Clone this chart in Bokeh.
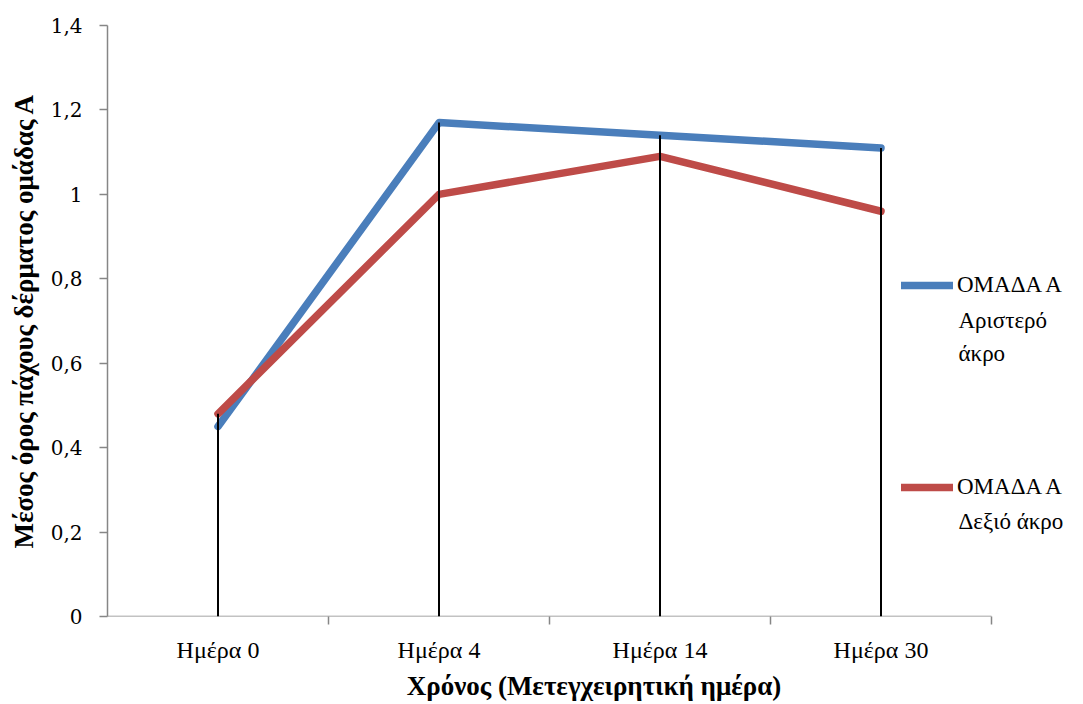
import numpy as np
from bokeh.plotting import figure
from bokeh.models import (Range1d, FixedTicker, CustomJSTickFormatter, Legend,
                          LegendItem, Label)
from bokeh.embed import file_html
from bokeh.resources import INLINE

# ---- data ----
days = ["Ημέρα 0", "Ημέρα 4", "Ημέρα 14", "Ημέρα 30"]
left_limb = [0.45, 1.17, 1.14, 1.11]    # ΟΜΑΔΑ Α Αριστερό άκρο
right_limb = [0.48, 1.00, 1.09, 0.96]   # ΟΜΑΔΑ Α Δεξιό άκρο
legend_first = ["ΟΜΑΔΑ Α", "ΟΜΑΔΑ Α"]
legend_rest = [["Αριστερό", "άκρο"], ["Δεξιό άκρο"]]
y_ticks = [0, 0.2, 0.4, 0.6, 0.8, 1.0, 1.2, 1.4]
x_title = "Χρόνος (Μετεγχειρητική ημέρα)"
y_title = "Μέσος όρος πάχους δέρματος ομάδας Α"

BLUE = "#4A7EBB"
RED = "#BE4B48"
AXIS = "#868686"
FONT = "Liberation Serif"
TICK_FONT = "DejaVu Serif"

# layout (pixels)
W, H = 1083, 704
LEFT, TOP, BOTTOM, RIGHT = 107, 25, 88, 3
AXIS_W = 884                     # drawn length of the category axis
FRAME_W = W - LEFT - RIGHT
FRAME_H = H - TOP - BOTTOM
n = len(days)
x_end = n * FRAME_W / AXIS_W     # extra room on the right for the legend

xs = [i + 0.5 for i in range(n)]
tops = list(np.maximum(left_limb, right_limb))

p = figure(width=W, height=H, x_range=Range1d(0, x_end),
           y_range=Range1d(0, 1.4), output_backend="svg", toolbar_location=None,
           min_border_left=LEFT, min_border_right=RIGHT, min_border_top=TOP,
           min_border_bottom=BOTTOM)
p.outline_line_color = None
p.xgrid.visible = False
p.ygrid.visible = False

# category axis base line (only across the categories)
p.segment(x0=[0], y0=[0], x1=[n], y1=[0], line_color=AXIS, line_width=1.5)

l1 = p.line(xs, left_limb, line_width=7.5, line_color=BLUE, line_cap="round", line_join="round")
l2 = p.line(xs, right_limb, line_width=7.5, line_color=RED, line_cap="round", line_join="round")
p.segment(x0=xs, y0=[0] * n, x1=xs, y1=tops, line_color="black", line_width=2)

# x axis
xa = p.xaxis[0]
xa.ticker = FixedTicker(ticks=xs, minor_ticks=list(range(1, n + 1)))
xa.formatter = CustomJSTickFormatter(args=dict(labels=days),
                                     code="return labels[Math.round(tick - 0.5)] || '';")
xa.major_tick_line_color = None
xa.major_tick_out = 0
xa.major_tick_in = 0
xa.minor_tick_in = 0
xa.minor_tick_out = 8
xa.minor_tick_line_color = AXIS
xa.minor_tick_line_width = 1.5
xa.axis_line_color = None
xa.major_label_text_font = FONT
xa.major_label_text_font_size = "24px"
xa.major_label_text_color = "black"
xa.major_label_standoff = 12
xa.axis_label = x_title
xa.axis_label_text_font = FONT
xa.axis_label_text_font_style = "bold"
xa.axis_label_text_font_size = "27px"
xa.axis_label_text_color = "black"
xa.axis_label_standoff = 5

# y axis
ya = p.yaxis[0]
ya.ticker = FixedTicker(ticks=y_ticks, minor_ticks=[])
ya.formatter = CustomJSTickFormatter(
    code="return (Math.round(tick*10)/10).toString().replace('.', ',');")
ya.major_tick_in = 0
ya.major_tick_out = 8
ya.major_tick_line_color = AXIS
ya.major_tick_line_width = 1.5
ya.minor_tick_line_color = None
ya.axis_line_color = AXIS
ya.axis_line_width = 1.5
ya.major_label_text_font = TICK_FONT
ya.major_label_text_font_size = "20px"
ya.major_label_text_color = "black"
ya.major_label_standoff = 17
ya.axis_label = y_title
ya.axis_label_text_font = FONT
ya.axis_label_text_font_style = "bold"
ya.axis_label_text_font_size = "27px"
ya.axis_label_text_color = "black"
ya.axis_label_standoff = 9

# legend (first line as legend label, continuation lines as labels)
for renderer, first, loc in [(l1, legend_first[0], (794, 318)),
                             (l2, legend_first[1], (794, 116))]:
    lg = Legend(items=[LegendItem(label=first, renderers=[renderer])],
                location=loc, padding=0, margin=0, spacing=0,
                glyph_width=52, glyph_height=24, label_height=24,
                label_standoff=4, border_line_color=None,
                background_fill_alpha=0,
                label_text_font=FONT, label_text_font_size="23px",
                label_text_color="black")
    p.add_layout(lg)

lx = (958 - LEFT) / (AXIS_W / n)
px_per_unit = FRAME_H / 1.4
for lines, first_y_px in [(legend_rest[0], 287), (legend_rest[1], 488)]:
    for k, txt in enumerate(lines):
        ypix = first_y_px + 33 * (k + 1)
        p.add_layout(Label(x=lx, y=(H - BOTTOM - ypix) / px_per_unit, text=txt,
                           text_font=FONT, text_font_size="23px",
                           text_color="black", text_baseline="middle"))

open("out.html", "w").write(file_html(p, INLINE))
